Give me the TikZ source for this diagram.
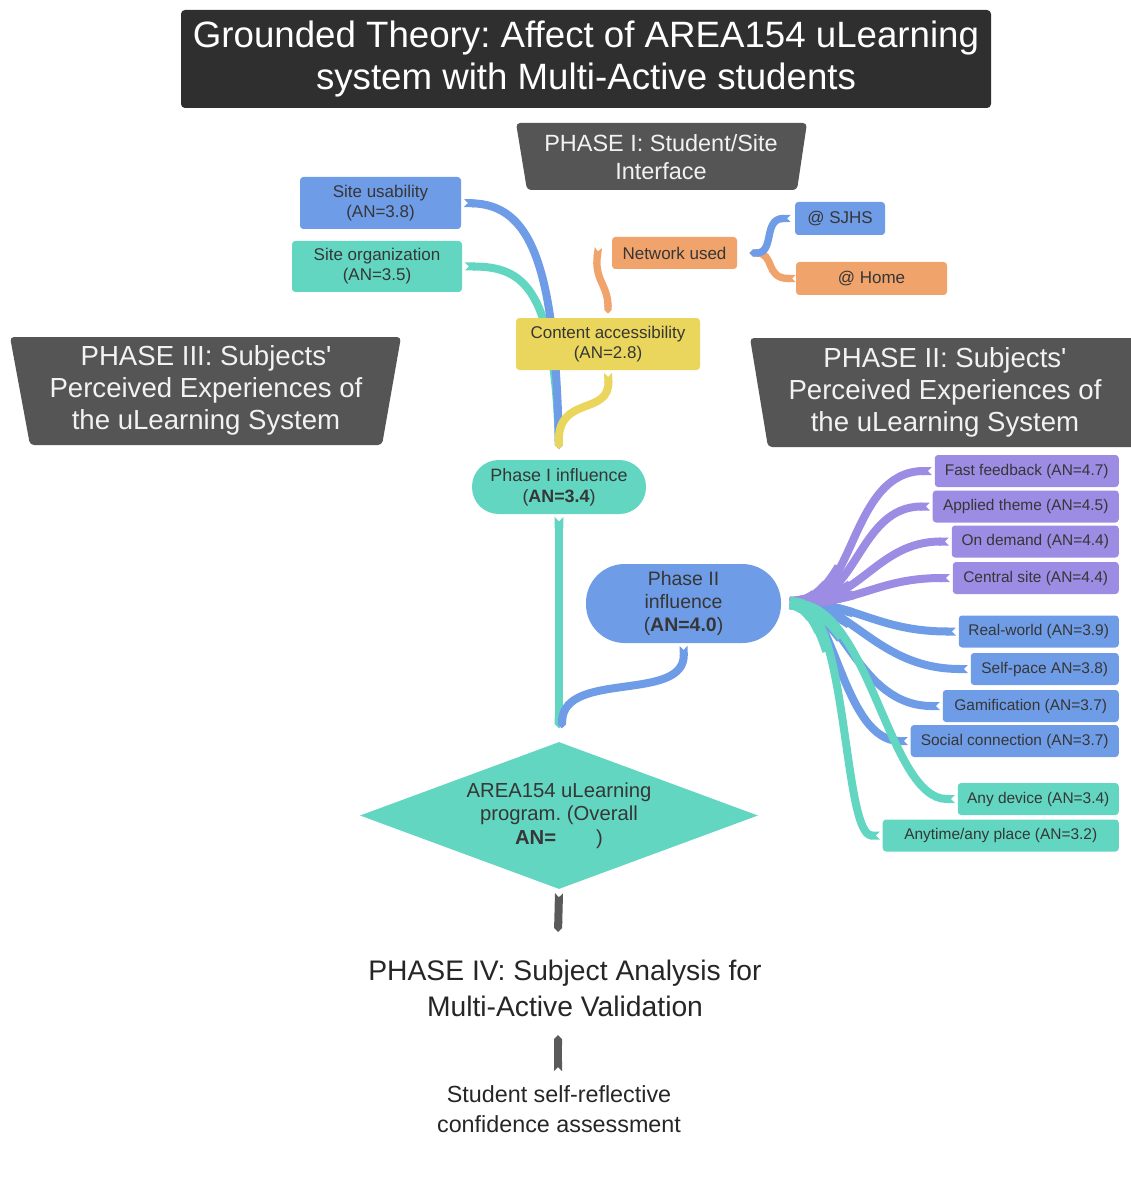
\documentclass[tikz,border=0pt]{standalone}
\usepackage{fontspec}
\setmainfont{Liberation Sans}[Ligatures=TeXOff]
\usetikzlibrary{arrows.meta,shapes.geometric}

\definecolor{titlebg}{HTML}{2F2F2F}
\definecolor{phasebg}{HTML}{555555}
\definecolor{cblue}{HTML}{6F9CE6}
\definecolor{cteal}{HTML}{62D6C1}
\definecolor{corange}{HTML}{F1A36C}
\definecolor{cyellow}{HTML}{EAD65C}
\definecolor{cpurple}{HTML}{9C8CE3}
\definecolor{carrow}{HTML}{5A5A5A}
\definecolor{ink}{HTML}{363636}
\definecolor{headtxt}{HTML}{F2F2F2}

% a theme branch: colour, theme node, first control offset, control point near the root;
% the branch is widened in steps towards the root
\newcommand\themebranch[4]{%
  \draw[branch,#1] ([xshift=-2pt]#2.west) .. controls +(#3,0) and (#4) .. (root);
  \foreach \w/\l in {6.8pt/48pt, 7.6pt/32pt, 8.4pt/20pt, 9.2pt/10pt}
    \draw[#1, line width=\w, dash pattern=on \l off 3000pt]
      (root) .. controls (#4) and +(#3,0) .. ([xshift=-2pt]#2.west);
}

\begin{document}
\frenchspacing
\begin{tikzpicture}[x=0.75pt,y=-0.75pt,
  lbl/.style={inner sep=0pt, align=center, text=ink},
  head/.style={inner sep=0pt, align=center, text=headtxt},
  box/.style={rectangle, rounded corners=2.5pt, inner sep=0pt, align=center, text=ink},
  small/.style={font=\fontsize{12.75pt}{15pt}\selectfont},
  listbox/.style={box, font=\fontsize{11.6pt}{14pt}\selectfont, minimum height=24pt, anchor=east},
  branch/.style={line width=6pt, {Triangle Cap[reversed]}-{Triangle Cap}},
  thinbranch/.style={line width=5.5pt, {Triangle Cap[reversed]}-{Triangle Cap}}
]
\path[use as bounding box] (0,0) rectangle (1130,1194);

% ---------- headers ----------
\fill[titlebg, rounded corners=3pt] (181,10) rectangle (991,108);
\node[head, text=white, font=\fontsize{27.5pt}{31.5pt}\selectfont] (title) at (586,59)
  {Grounded Theory: Affect of AREA154 uLearning\\system with Multi-Active students};

\fill[phasebg, rounded corners=3pt] (516,123) -- (807,123) -- (797,190) -- (527,190) -- cycle;
\node[head, font=\fontsize{17.6pt}{21pt}\selectfont] (ph1) at (661,157)
  {PHASE I: Student/Site\\Interface};

\fill[phasebg, rounded corners=3pt] (10,337) -- (401,337) -- (382,445) -- (30,445) -- cycle;
\node[head, font=\fontsize{20.7pt}{24pt}\selectfont] (ph3) at (206,390)
  {PHASE III: Subjects'\\Perceived Experiences of\\the uLearning System};

\fill[phasebg, rounded corners=3pt] (750,338) -- (1140,338) -- (1140,447) -- (768,447) -- cycle;
\node[head, font=\fontsize{20.7pt}{24pt}\selectfont] (ph2) at (945,392)
  {PHASE II: Subjects'\\Perceived Experiences of\\the uLearning System};

% ---------- Phase I nodes ----------
\node[box, small, fill=cblue, minimum width=120.75pt, minimum height=39pt] (usab) at (380.5,203)
  {Site usability\\(AN=3.8)};
\node[box, small, fill=cteal, minimum width=127.5pt, minimum height=38.25pt] (sorg) at (377,266.5)
  {Site organization\\(AN=3.5)};
\node[box, small, fill=corange, minimum width=93.75pt, minimum height=24pt] (net) at (674.5,253)
  {Network used};
\node[box, small, fill=cblue, minimum width=67.5pt, minimum height=24.75pt] (sjhs) at (840,218.5)
  {@ SJHS};
\node[box, small, fill=corange, minimum width=113.25pt, minimum height=24.75pt] (home) at (871.5,278.5)
  {@ Home};

\coordinate (netout) at ([xshift=-10pt,yshift=4pt]net.west);
\coordinate (netin) at ([xshift=9pt]net.east);

\node[box, fill=cteal, rounded corners=20pt, minimum width=130.5pt, minimum height=40.5pt,
      font=\fontsize{13.4pt}{15.75pt}\selectfont] (p1) at (559,487)
  {Phase I influence\\(\textbf{AN=3.4})};
\coordinate (p1in) at ([yshift=8pt]p1.north);

% connectors into Phase I influence, drawn before the box they pass under
\draw[branch, cteal] ([xshift=2pt]sorg.east) .. controls +(60,0) and (554,290) .. (p1in);
\draw[branch, cblue] ([xshift=2pt]usab.east) .. controls +(65,2) and (555,260) .. (p1in);

\draw[thinbranch, corange] (home.west) .. controls +(-31,0) and (775,253) .. (netin);
\draw[thinbranch, cblue] ([xshift=-3pt]sjhs.west) .. controls +(-28,0) and (775,253) .. (netin);

\node[box, small, fill=cyellow, minimum width=138pt, minimum height=39pt] (cacc) at (608,344)
  {Content accessibility\\(AN=2.8)};

\draw[thinbranch, corange] (netout) .. controls (594,280) and (608,285) .. ([yshift=3pt]cacc.north);
\draw[branch, cyellow] ([yshift=-2pt]cacc.south) .. controls +(2,43) and (558,395) .. (p1in);

% ---------- Phase II influence and its themes ----------
\node[box, fill=cblue, rounded corners=29pt, minimum width=146.25pt, minimum height=59.25pt,
      font=\fontsize{14.6pt}{17.3pt}\selectfont] (p2) at (683.5,603.5)
  {Phase II\\influence\\(\textbf{AN=4.0})};
\coordinate (root) at (790,603);

\node[listbox, fill=cpurple, minimum width=138pt]    (ff)  at (1119,471) {Fast feedback (AN=4.7)};
\node[listbox, fill=cpurple, minimum width=139.5pt]  (ap)  at (1119,506.5) {Applied theme (AN=4.5)};
\node[listbox, fill=cpurple, minimum width=125.25pt] (od)  at (1119,541.5) {On demand (AN=4.4)};
\node[listbox, fill=cpurple, minimum width=124.5pt]  (cs)  at (1119,578) {Central site (AN=4.4)};
\node[listbox, fill=cblue,   minimum width=120pt]    (rw)  at (1119,631.5) {Real-world (AN=3.9)};
\node[listbox, fill=cblue,   minimum width=111pt]    (sp)  at (1119,669) {Self-pace AN=3.8)};
\node[listbox, fill=cblue,   minimum width=132pt]    (gm)  at (1119,706) {Gamification (AN=3.7)};
\node[listbox, fill=cblue,   minimum width=156pt]    (sc)  at (1119,741) {Social connection (AN=3.7)};
\node[listbox, fill=cteal,   minimum width=120.75pt] (ad)  at (1119,799) {Any device (AN=3.4)};
\node[listbox, fill=cteal,   minimum width=177pt]    (aa)  at (1119,835.5) {Anytime/any place (AN=3.2)};

\themebranch{cblue}{rw}{-78}{855,603}
\themebranch{cblue}{sp}{-90}{850,603}
\themebranch{cblue}{gm}{-82}{842,605}
\themebranch{cblue}{sc}{-64}{834,605}

\themebranch{cpurple}{ff}{-82}{855,603}
\themebranch{cpurple}{ap}{-72}{858,603}
\themebranch{cpurple}{od}{-72}{860,603}
\themebranch{cpurple}{cs}{-72}{860,603}

\themebranch{cteal}{ad}{-66}{870,608}
\themebranch{cteal}{aa}{-37}{848,608}

% ---------- overall program ----------
\node[diamond, aspect=2.7, fill=cteal, inner sep=0pt, minimum width=298.5pt, minimum height=110.25pt,
      align=center, text=ink, font=\fontsize{15.2pt}{17.6pt}\selectfont] (dia) at (559,815.5)
  {AREA154 uLearning\\program. (Overall\\\textbf{AN=}\hspace{30pt})};
\coordinate (diain) at ([yshift=10pt]dia.north);

\draw[branch, cteal, line width=6.5pt] ([yshift=-2pt]p1.south) -- (diain);
\draw[branch, cblue] ([yshift=-2pt]p2.south) .. controls +(2,57) and (565,670) .. ([xshift=2pt]diain);

% ---------- Phase IV ----------
\node[lbl, text=black!85, font=\fontsize{21.2pt}{27pt}\selectfont] (p4) at (565,988)
  {PHASE IV: Subject Analysis for\\Multi-Active Validation};
\node[lbl, text=black!85, font=\fontsize{17.5pt}{23pt}\selectfont] (self) at (559,1109)
  {Student self-reflective\\confidence assessment};

\coordinate (p4in) at (558,932);
\coordinate (p4out) at (558,1035);
\coordinate (selfout) at (558,1071);

\draw[branch, carrow] ([yshift=-3pt]dia.south) -- (p4in);
\draw[branch, carrow] (selfout) -- (p4out);

\end{tikzpicture}
\end{document}
